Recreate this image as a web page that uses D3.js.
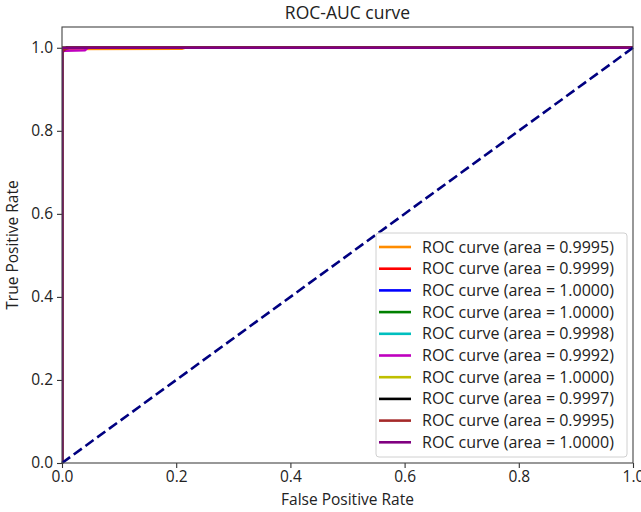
<!DOCTYPE html>
<html>
<head>
<meta charset="utf-8">
<script src="https://d3js.org/d3.v7.min.js"></script>
<style>
  body { margin: 0; background: #fff; }
  text { font-family: "Open Sans", "DejaVu Sans", sans-serif; fill: #222; }
</style>
</head>
<body>
<div id="chart"></div>
<script>
// series, in plotting order
var colors = ["darkorange", "red", "blue", "green", "#00bfbf", "#bf00bf", "#bfbf00", "black", "brown", "purple"];
var aucs = ["0.9995", "0.9999", "1.0000", "1.0000", "0.9998", "0.9992", "1.0000", "0.9997", "0.9995", "1.0000"];
// fpr / tpr points per class
var fprs = [
  [0, 0, 0.002, 0.21, 0.215, 1],
  [0, 0, 0.003, 0.006, 1],
  [0, 0, 1],
  [0, 0, 1],
  [0, 0, 0.004, 0.01, 1],
  [0, 0, 0.005, 0.04, 0.045, 1],
  [0, 0, 1],
  [0, 0, 0.004, 0.008, 1],
  [0, 0, 0.003, 0.012, 1],
  [0, 0, 1]
];
var tprs = [
  [0, 0.99, 0.997, 0.998, 1, 1],
  [0, 0.99, 0.995, 1, 1],
  [0, 1, 1],
  [0, 1, 1],
  [0, 0.99, 0.996, 1, 1],
  [0, 0.99, 0.993, 0.994, 1, 1],
  [0, 1, 1],
  [0, 0.99, 0.996, 1, 1],
  [0, 0.99, 0.995, 1, 1],
  [0, 1, 1]
];
var xTicks = [0, 0.2, 0.4, 0.6, 0.8, 1.0];
var yTicks = [0, 0.2, 0.4, 0.6, 0.8, 1.0];

var W = 641, H = 512;
var margin = { top: 27, right: 8, bottom: 49, left: 62 };
var fs = "15.5px";

var svg = d3.select("#chart").append("svg")
    .attr("width", W)
    .attr("height", H);

var x = d3.scaleLinear().domain([0, 1]).range([margin.left, 633]);
var y = d3.scaleLinear().domain([0, 1.05]).range([463, margin.top]);

var plot = svg.append("g");

// clip to the axes box
svg.append("clipPath").attr("id", "clip")
  .append("rect")
    .attr("x", x(0)).attr("y", y(1.05))
    .attr("width", x(1) - x(0)).attr("height", y(0) - y(1.05));

var line = d3.line().x(function (d) { return x(d[0]); }).y(function (d) { return y(d[1]); });

colors.forEach(function (c, i) {
  var pts = fprs[i].map(function (f, j) { return [f, tprs[i][j]]; });
  plot.append("path")
    .attr("d", line(pts))
    .attr("clip-path", "url(#clip)")
    .attr("fill", "none")
    .attr("stroke", c)
    .attr("stroke-width", 2.6);
});

// chance diagonal
plot.append("path")
  .attr("d", line([[0, 0], [1, 1]]))
  .attr("fill", "none")
  .attr("stroke", "navy")
  .attr("stroke-width", 2.6)
  .attr("stroke-dasharray", "10,4.5");

// axes
var xAxis = svg.append("g")
  .attr("transform", "translate(0," + y(0) + ")")
  .call(d3.axisBottom(x).tickValues(xTicks).tickFormat(d3.format(".1f")).tickSize(5).tickPadding(3));
var yAxis = svg.append("g")
  .attr("transform", "translate(" + x(0) + ",0)")
  .call(d3.axisLeft(y).tickValues(yTicks).tickFormat(d3.format(".1f")).tickSize(5).tickPadding(4));
[xAxis, yAxis].forEach(function (a) {
  a.select(".domain").remove();
  a.selectAll("line").attr("stroke", "#333").attr("stroke-width", 1.1);
  a.selectAll("text").style("font-size", fs).attr("fill", "#222");
});

// spines
svg.append("rect")
  .attr("x", x(0)).attr("y", y(1.05))
  .attr("width", x(1) - x(0)).attr("height", y(0) - y(1.05))
  .attr("fill", "none").attr("stroke", "#444").attr("stroke-width", 1.1);

// labels
svg.append("text")
  .attr("x", (x(0) + x(1)) / 2).attr("y", 19)
  .attr("text-anchor", "middle").style("font-size", "17.5px")
  .text("ROC-AUC curve");
svg.append("text")
  .attr("x", (x(0) + x(1)) / 2).attr("y", 505)
  .attr("text-anchor", "middle").style("font-size", fs)
  .text("False Positive Rate");
svg.append("text")
  .attr("transform", "translate(18," + (y(0) + y(1.05)) / 2 + ") rotate(-90)")
  .attr("text-anchor", "middle").style("font-size", fs)
  .text("True Positive Rate");

// legend
var lg = svg.append("g").attr("transform", "translate(376,233)");
lg.append("rect")
  .attr("width", 251).attr("height", 224).attr("rx", 3)
  .attr("fill", "white").attr("fill-opacity", 0.8)
  .attr("stroke", "#d0d0d0");
colors.forEach(function (c, i) {
  var yy = 14 + i * 21.7;
  lg.append("line")
    .attr("x1", 3).attr("x2", 35).attr("y1", yy).attr("y2", yy)
    .attr("stroke", c).attr("stroke-width", 2.6);
  lg.append("text")
    .attr("x", 46).attr("y", yy + 5.5)
    .style("font-size", "16px")
    .text("ROC curve (area = " + aucs[i] + ")");
});
</script>
</body>
</html>
